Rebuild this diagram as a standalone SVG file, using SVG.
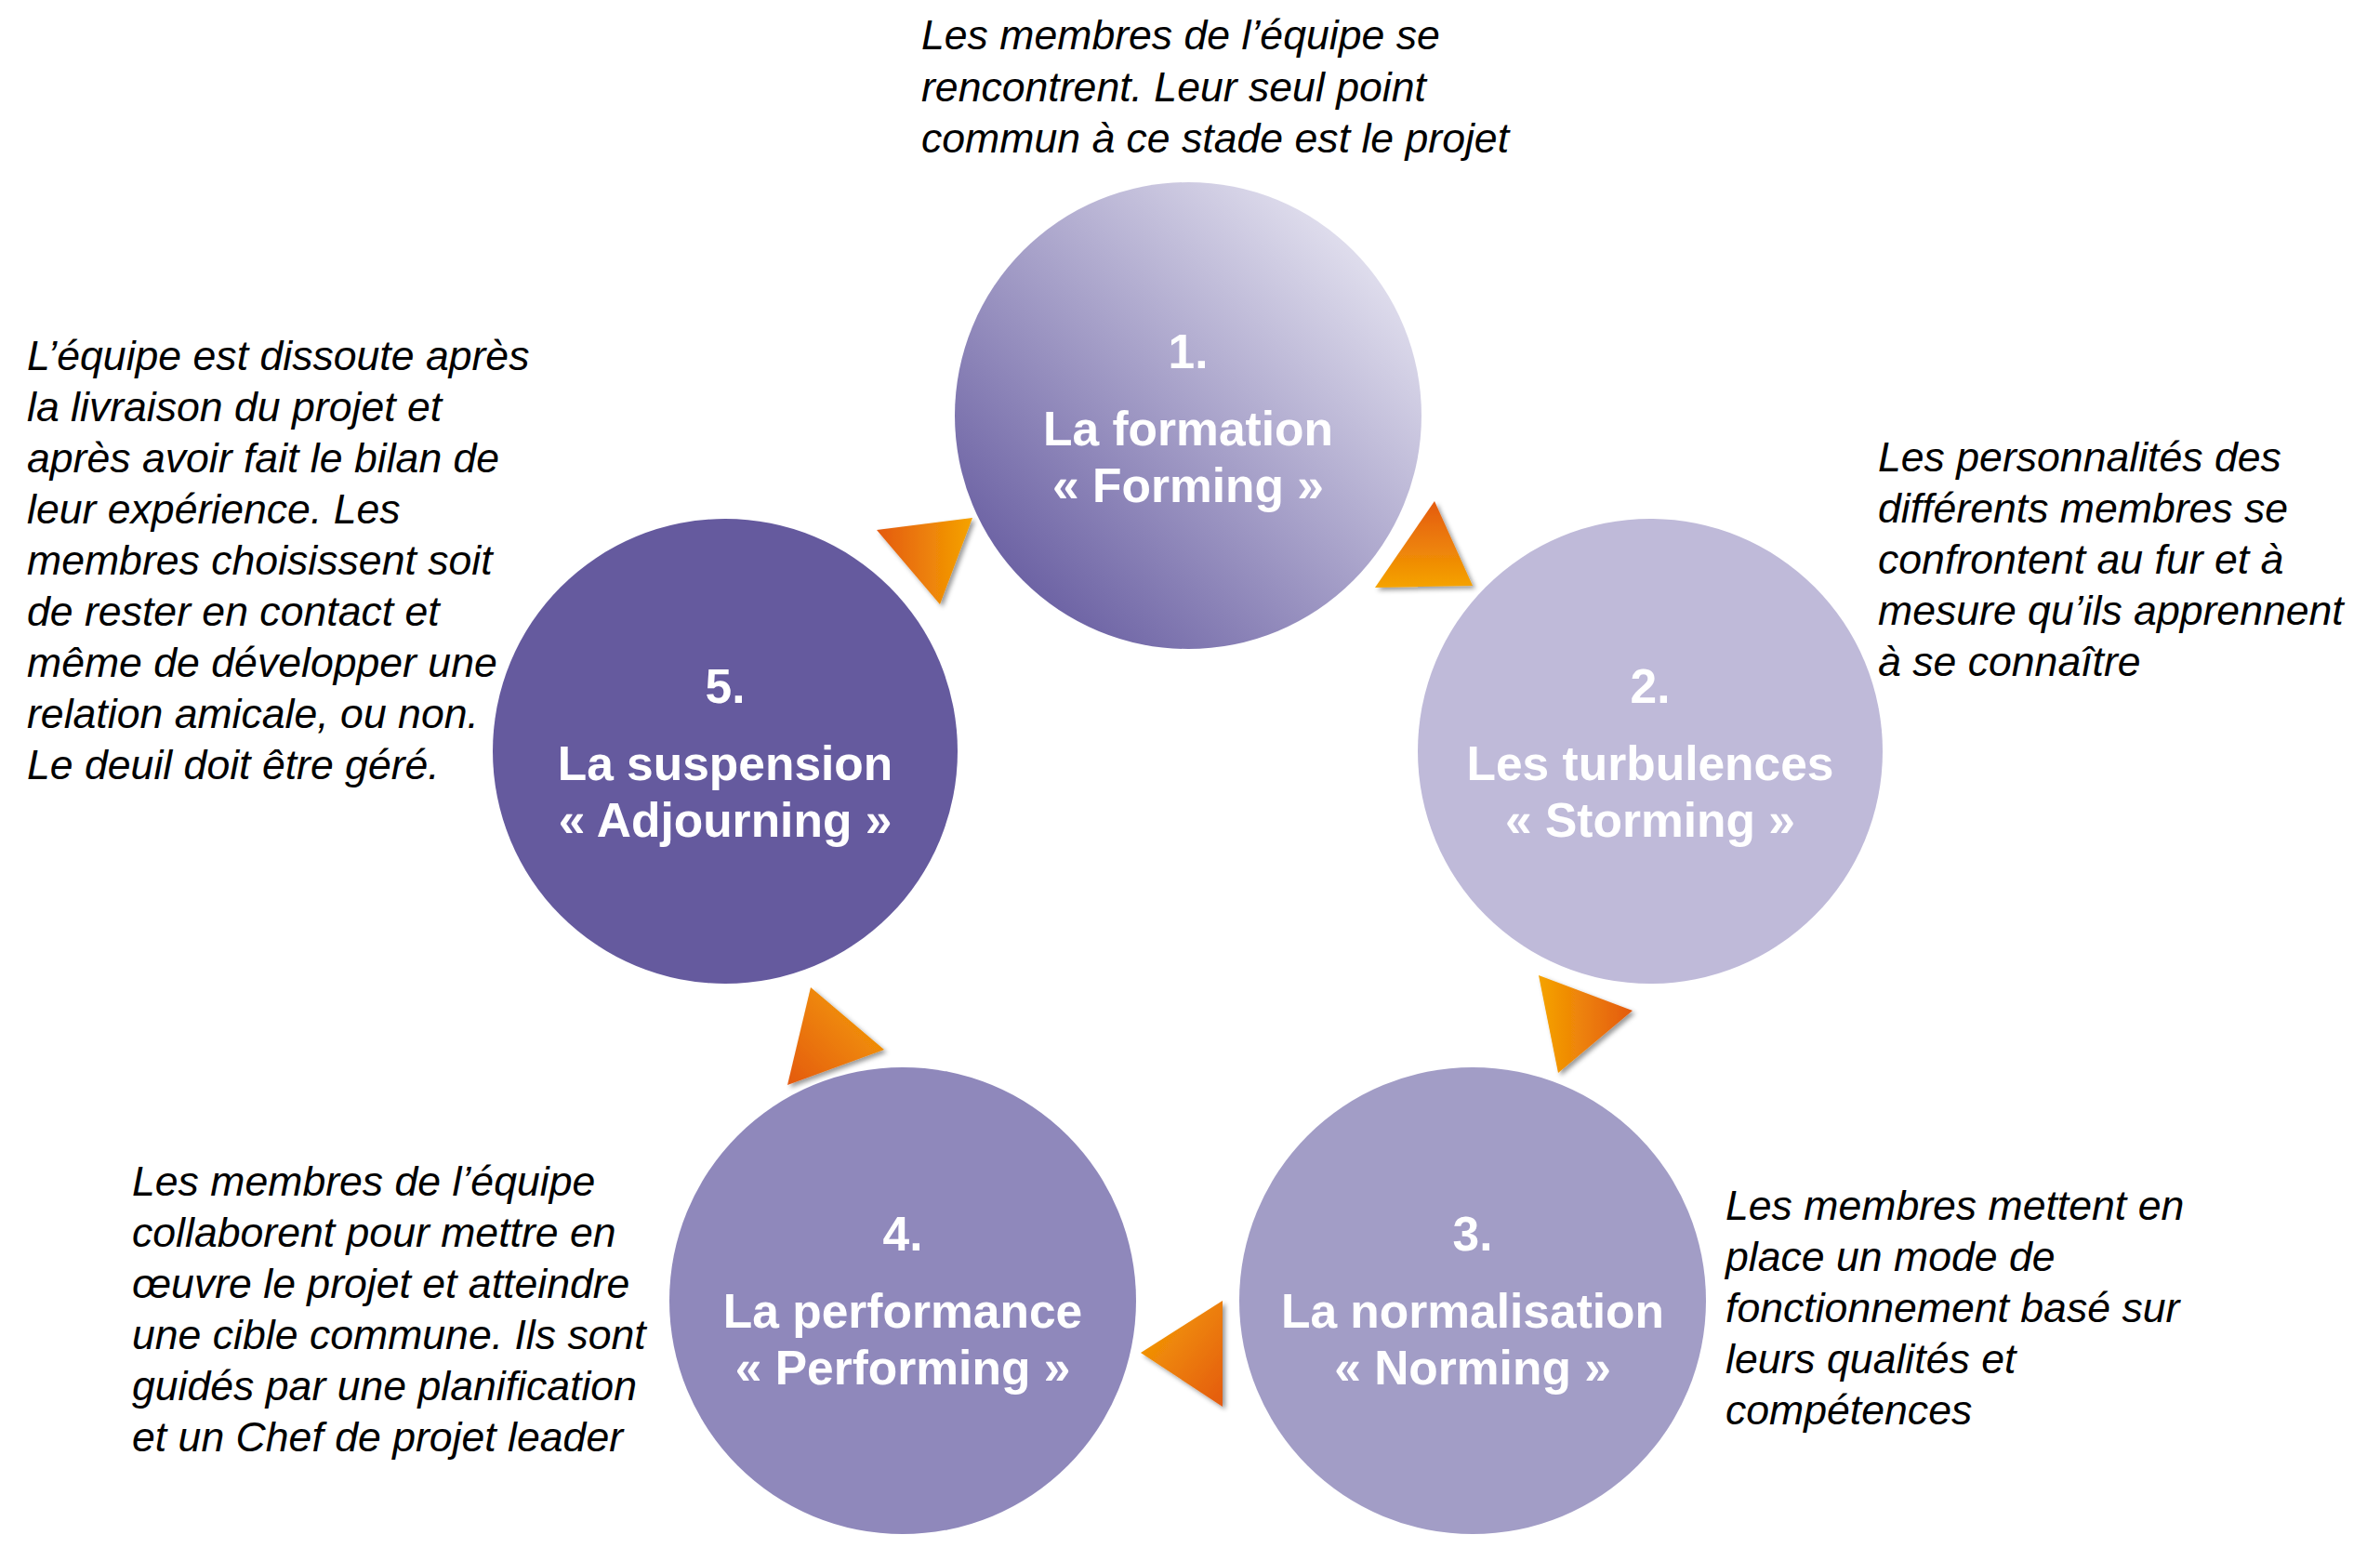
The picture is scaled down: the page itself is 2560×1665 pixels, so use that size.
<svg xmlns="http://www.w3.org/2000/svg" width="2560" height="1665" viewBox="0 0 2560 1665">
<defs>
<style>
.desc{font-family:"Liberation Sans",Arial,sans-serif;font-style:italic;font-size:44.6px;fill:#000}
.lbl{font-family:"Liberation Sans",Arial,sans-serif;font-weight:bold;font-size:51.5px;fill:#fff;text-anchor:middle}
</style>
<linearGradient id="g1" x1="0.15" y1="0.85" x2="0.85" y2="0.15">
<stop offset="0" stop-color="#6e64a5"/>
<stop offset="1" stop-color="#dedcec"/>
</linearGradient>
<linearGradient id="oT1" x1="0" y1="0" x2="1" y2="0"><stop offset="0" stop-color="#e45a12"/><stop offset="1" stop-color="#f5a300"/></linearGradient>
<linearGradient id="oT2" x1="0" y1="0" x2="0" y2="1"><stop offset="0" stop-color="#e45a12"/><stop offset="1" stop-color="#f5a300"/></linearGradient>
<linearGradient id="oT3" x1="0" y1="0" x2="1" y2="0"><stop offset="0" stop-color="#f5a300"/><stop offset="1" stop-color="#e45a12"/></linearGradient>
<linearGradient id="oT4" x1="0" y1="0" x2="1" y2="1"><stop offset="0" stop-color="#f5a300"/><stop offset="1" stop-color="#e45a12"/></linearGradient>
<linearGradient id="oT5" x1="1" y1="0" x2="0" y2="1"><stop offset="0" stop-color="#f5a300"/><stop offset="1" stop-color="#e45a12"/></linearGradient>
<filter id="sh" x="-30%" y="-30%" width="160%" height="160%">
<feDropShadow dx="3" dy="3" stdDeviation="2.5" flood-color="#000" flood-opacity="0.4"/>
</filter>
</defs>
<rect width="2560" height="1665" fill="#fff"/>

<g id="connectors" filter="url(#sh)">
<polygon id="arrow-5-1" points="943,570 1046,557 1011,650" fill="url(#oT1)"/>
<polygon id="arrow-1-2" points="1543,539 1479,632 1584,630" fill="url(#oT2)"/>
<polygon id="arrow-2-3" points="1655,1049 1756,1087 1676,1154" fill="url(#oT3)"/>
<polygon id="arrow-3-4" points="1315,1399 1227,1455 1315,1513" fill="url(#oT4)"/>
<polygon id="arrow-4-5" points="872,1062 951,1129 847,1167" fill="url(#oT5)"/>
</g>

<g id="node1">
<circle cx="1278" cy="447" r="251" fill="url(#g1)"/>
<text class="lbl" x="1278" y="396">1.</text>
<text class="lbl" x="1278" y="479">La formation</text>
<text class="lbl" x="1278" y="540">« Forming »</text>
</g>
<g id="node2">
<circle cx="1775" cy="808" r="250" fill="#bfbad9"/>
<text class="lbl" x="1775" y="756">2.</text>
<text class="lbl" x="1775" y="839">Les turbulences</text>
<text class="lbl" x="1775" y="900">« Storming »</text>
</g>
<g id="node3">
<circle cx="1584" cy="1399" r="251" fill="#a29dc6"/>
<text class="lbl" x="1584" y="1345">3.</text>
<text class="lbl" x="1584" y="1428">La normalisation</text>
<text class="lbl" x="1584" y="1489">« Norming »</text>
</g>
<g id="node4">
<circle cx="971" cy="1399" r="251" fill="#8f88bb"/>
<text class="lbl" x="971" y="1345">4.</text>
<text class="lbl" x="971" y="1428">La performance</text>
<text class="lbl" x="971" y="1489">« Performing »</text>
</g>
<g id="node5">
<circle cx="780" cy="808" r="250" fill="#655a9e"/>
<text class="lbl" x="780" y="756">5.</text>
<text class="lbl" x="780" y="839">La suspension</text>
<text class="lbl" x="780" y="900">« Adjourning »</text>
</g>

<g id="desc1">
<text class="desc" x="991" y="53">Les membres de l’équipe se</text>
<text class="desc" x="991" y="108.5">rencontrent. Leur seul point</text>
<text class="desc" x="991" y="164">commun à ce stade est le projet</text>
</g>
<g id="desc2">
<text class="desc" x="2020" y="507">Les personnalités des</text>
<text class="desc" x="2020" y="562">différents membres se</text>
<text class="desc" x="2020" y="617">confrontent au fur et à</text>
<text class="desc" x="2020" y="672">mesure qu’ils apprennent</text>
<text class="desc" x="2020" y="727">à se connaître</text>
</g>
<g id="desc3">
<text class="desc" x="1856" y="1312">Les membres mettent en</text>
<text class="desc" x="1856" y="1367">place un mode de</text>
<text class="desc" x="1856" y="1422">fonctionnement basé sur</text>
<text class="desc" x="1856" y="1477">leurs qualités et</text>
<text class="desc" x="1856" y="1532">compétences</text>
</g>
<g id="desc4">
<text class="desc" x="142" y="1286">Les membres de l’équipe</text>
<text class="desc" x="142" y="1341">collaborent pour mettre en</text>
<text class="desc" x="142" y="1396">œuvre le projet et atteindre</text>
<text class="desc" x="142" y="1451">une cible commune. Ils sont</text>
<text class="desc" x="142" y="1506">guidés par une planification</text>
<text class="desc" x="142" y="1561">et un Chef de projet leader</text>
</g>
<g id="desc5">
<text class="desc" x="29" y="398">L’équipe est dissoute après</text>
<text class="desc" x="29" y="453">la livraison du projet et</text>
<text class="desc" x="29" y="508">après avoir fait le bilan de</text>
<text class="desc" x="29" y="563">leur expérience. Les</text>
<text class="desc" x="29" y="618">membres choisissent soit</text>
<text class="desc" x="29" y="673">de rester en contact et</text>
<text class="desc" x="29" y="728">même de développer une</text>
<text class="desc" x="29" y="783">relation amicale, ou non.</text>
<text class="desc" x="29" y="838">Le deuil doit être géré.</text>
</g>
</svg>
